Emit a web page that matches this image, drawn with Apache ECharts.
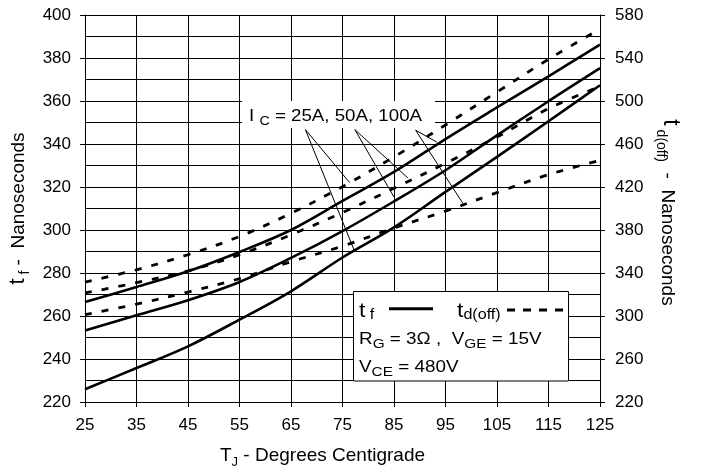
<!DOCTYPE html>
<html>
<head>
<meta charset="utf-8">
<script src="https://cdn.jsdelivr.net/npm/echarts@6/dist/echarts.min.js"></script>
<style>
html,body{margin:0;padding:0;background:#fff;}
#c{width:705px;height:467px;}
</style>
</head>
<body>
<div id="c"></div>
<script>
// Junction temperature (°C)
const temps = [25, 35, 45, 55, 65, 75, 85, 95, 105, 115, 125];
// t_f (left axis, ns) — solid
const tf25  = [225.9, 235.8, 245.9, 258.3, 271.5, 287.2, 301.2, 317.7, 334.0, 350.6, 367.3];
const tf50  = [253.3, 260.3, 267.3, 275.8, 287.0, 299.5, 313.3, 327.8, 344.0, 359.9, 375.3];
const tf100 = [266.5, 273.5, 280.8, 289.8, 300.0, 313.5, 327.0, 342.3, 357.0, 371.5, 386.2];
// t_d(off) (right axis, ns) — dashed
const td25  = [331.6, 343.0, 357.0, 374.0, 395.5, 420.3, 448.0, 477.7, 508.4, 538.8, 567.0];
const td50  = [321.4, 331.0, 342.0, 357.0, 375.5, 396.3, 418.8, 442.0, 466.5, 492.9, 513.7];
const td100 = [301.3, 311.0, 322.3, 334.8, 350.5, 365.0, 381.9, 397.6, 414.8, 431.5, 444.8];
// Annotation leader lines in data units [T, t_f ns]
const leaderLines = [
  [[67.8, 346.7], [76.4, 322.0]],
  [[67.8, 346.7], [77.4, 289.8]],
  [[77.4, 346.7], [87.7, 324.2]],
  [[77.4, 346.7], [85.0, 315.3]],
  [[89.2, 346.4], [93.3, 340.9]],
  [[89.2, 346.4], [98.4, 312.3]]
];

const FONT = "'Liberation Sans', Arial, sans-serif";
const chart = echarts.init(document.getElementById('c'));
const pts = arr => temps.map((t, i) => [t, arr[i]]);

function solidSeries(name, arr, extra) {
  return Object.assign({
    name, type: 'line', data: pts(arr), yAxisIndex: 0, smooth: 0.35,
    symbol: 'none', silent: true, z: 3,
    lineStyle: { color: '#000', width: 2.6, type: 'solid' }
  }, extra || {});
}
function dashSeries(name, arr) {
  return {
    name, type: 'line', data: pts(arr), yAxisIndex: 1, smooth: 0.35,
    symbol: 'none', silent: true, z: 3,
    lineStyle: { color: '#000', width: 2.8, type: [7, 10] }
  };
}

const richN = (fs, pb) => ({ fontFamily: FONT, fontSize: fs, color: '#000', verticalAlign: 'bottom', padding: [0, 0, pb, 0] });

chart.setOption({
  animation: false,
  backgroundColor: '#fff',
  grid: { left: 85, right: 105, top: 15, bottom: 65, containLabel: false, outerBoundsMode: 'none' },
  xAxis: {
    type: 'value', min: 25, max: 125, interval: 10,
    axisLine: { show: true, lineStyle: { color: '#000', width: 1 } },
    axisTick: { show: true, inside: false, length: 5, lineStyle: { color: '#000' } },
    axisLabel: { color: '#000', fontFamily: FONT, fontSize: 17, margin: 15 },
    splitLine: { show: true, lineStyle: { color: '#000', width: 1 } },
    name: '{n|T}{s|J}{n| - Degrees Centigrade}',
    nameLocation: 'middle', nameGap: 44,
    nameTextStyle: {
      padding: [0, 40, 0, 0],
      rich: { n: richN(19, 4), s: richN(13, 0) }
    }
  },
  yAxis: [
    {
      type: 'value', min: 220, max: 400, interval: 20, position: 'left',
      axisLine: { show: true, lineStyle: { color: '#000', width: 1 } },
      axisTick: { show: true, inside: false, length: 5, lineStyle: { color: '#000' } },
      axisLabel: { color: '#000', fontFamily: FONT, fontSize: 17, margin: 14 },
      splitLine: { show: true, lineStyle: { color: '#000', width: 1 } },
      minorTick: { show: false, splitNumber: 2 },
      minorSplitLine: { show: true, lineStyle: { color: '#000', width: 1 } },
      name: '{t|t}{s| f}{n| -  Nanoseconds}',
      nameLocation: 'middle', nameGap: 51,
      nameTextStyle: {
        rich: { t: richN(22, 3), n: richN(19, 3), s: richN(14, 0) }
      }
    },
    {
      type: 'value', min: 220, max: 580, interval: 40, position: 'right',
      axisLine: { show: true, lineStyle: { color: '#000', width: 1 } },
      axisTick: { show: true, inside: false, length: 5, lineStyle: { color: '#000' } },
      axisLabel: { color: '#000', fontFamily: FONT, fontSize: 17, margin: 15 },
      splitLine: { show: false },
      name: '{t|t}{s| d(off)}{n|  -  Nanoseconds}',
      nameLocation: 'middle', nameGap: 51, nameRotate: -90,
      nameTextStyle: {
        padding: [0, 0, 0, 8],
        rich: { t: richN(23, 5), n: richN(19, 3), s: richN(14, 0) }
      }
    }
  ],
  series: [
    solidSeries('t_f IC=25A', tf25, {
      markLine: {
        silent: true, symbol: ['none', 'none'], animation: false,
        label: { show: false },
        lineStyle: { color: '#000', width: 1, type: 'solid' },
        emphasis: { disabled: true },
        data: leaderLines.map(([a, b]) => [{ coord: a }, { coord: b }])
      }
    }),
    solidSeries('t_f IC=50A', tf50),
    solidSeries('t_f IC=100A', tf100),
    dashSeries('t_d(off) IC=25A', td25),
    dashSeries('t_d(off) IC=50A', td50),
    dashSeries('t_d(off) IC=100A', td100)
  ],
  graphic: [
    // IC annotation label
    { type: 'rect', z: 100, shape: { x: 242, y: 101, width: 193, height: 27 }, style: { fill: '#fff' } },
    { type: 'text', z: 101, x: 249, y: 127.7, scaleX: 1.1, originX: 0, originY: 0,
      style: {
        text: '{n|I }{s|C}{n| = 25A, 50A, 100A}', verticalAlign: 'bottom', align: 'left',
        rich: { n: richN(17, 3), s: richN(13, 0) }
      } },
    // Legend box
    { type: 'rect', z: 100, shape: { x: 353.5, y: 291.5, width: 215, height: 89.5 },
      style: { fill: '#fff', stroke: '#000', lineWidth: 1 } },
    { type: 'text', z: 101, x: 359, y: 322.6, scaleX: 1.15, originX: 0, originY: 0,
      style: { text: '{t|t}{s| f}', verticalAlign: 'bottom', align: 'left',
        rich: { t: richN(20, 1), s: richN(14, 0) } } },
    { type: 'line', z: 101, shape: { x1: 389, y1: 308.7, x2: 433, y2: 308.7 },
      style: { stroke: '#000', lineWidth: 3 } },
    { type: 'text', z: 101, x: 457, y: 322.6, scaleX: 1.15, originX: 0, originY: 0,
      style: { text: '{t|t}{s|d(off)}', verticalAlign: 'bottom', align: 'left',
        rich: { t: richN(20, 1), s: richN(14, 0) } } },
    { type: 'line', z: 101, shape: { x1: 507, y1: 310, x2: 563, y2: 310 },
      style: { stroke: '#000', lineWidth: 3, lineDash: [8, 8] } },
    { type: 'text', z: 101, x: 359, y: 351.4, scaleX: 1.18, originX: 0, originY: 0,
      style: { text: '{n|R}{s|G}{n| = 3Ω ,  V}{s|GE}{n| = 15V}', verticalAlign: 'bottom', align: 'left',
        rich: { n: richN(16, 4), s: richN(13, 0) } } },
    { type: 'text', z: 101, x: 359, y: 379.1, scaleX: 1.18, originX: 0, originY: 0,
      style: { text: '{n|V}{s|CE}{n| = 480V}', verticalAlign: 'bottom', align: 'left',
        rich: { n: richN(16, 4), s: richN(13, 0) } } }
  ]
});
</script>
</body>
</html>
